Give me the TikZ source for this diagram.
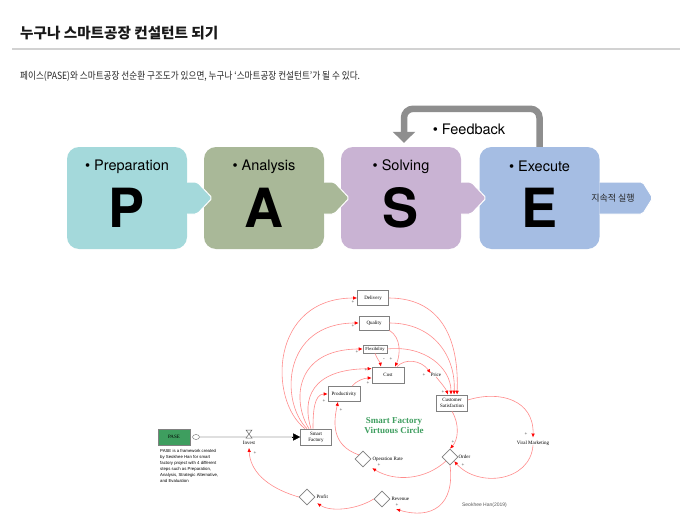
\documentclass[tikz,border=0pt]{standalone}
\usepackage{fontspec}
\usepackage{graphicx}
\setmainfont{Liberation Serif}
\newfontfamily\krfont{Noto Sans CJK KR}
\newfontfamily\hvfont{TeX Gyre Heros}
\newfontfamily\smfont{Liberation Sans}
\usetikzlibrary{arrows.meta, shapes.geometric, positioning}

\definecolor{pcol}{HTML}{A4D9DB}
\definecolor{acol}{HTML}{A9B898}
\definecolor{scol}{HTML}{C9B3D3}
\definecolor{ecol}{HTML}{A5BDE3}
\definecolor{fbgray}{HTML}{8E8E8E}
\definecolor{sfgreen}{HTML}{3E9E5F}
\definecolor{linkred}{HTML}{FF8C8C}

\begin{document}
\begin{tikzpicture}[
    x = 1pt, y = -1pt,
    blk/.style = {rounded corners = 12pt, minimum width = 120pt,
      minimum height = 102pt, inner sep = 0pt},
    tag/.style = {font = \hvfont\fontsize{14.5}{16}\selectfont, inner sep = 0pt},
    letter/.style = {font = \hvfont\bfseries\fontsize{54}{56}\selectfont, inner sep = 0pt},
    tab/.style = {draw = white, line width = 1pt, rounded corners = 2pt},
    fbarrow/.style = {draw = fbgray, line width = 6.5pt, rounded corners = 9pt,
      -{Triangle[length = 11pt, width = 22pt]}},
    sdbox/.style = {draw = gray, line width = 0.6pt, fill = white, inner sep = 1pt,
      align = center, font = \fontsize{5}{6}\selectfont},
    sdvar/.style = {diamond, draw = gray, line width = 0.6pt, fill = white,
      minimum width = 16pt, minimum height = 16pt, inner sep = 0pt},
    vlabel/.style = {font = \fontsize{5}{6}\selectfont, inner sep = 0pt},
    link/.style = {draw = linkred, line width = 0.6pt,
      -{Latex[length = 4pt, width = 3.5pt, color = red]}},
    sign/.style = {font = \fontsize{5}{5}\selectfont, text = gray!40!black, inner sep = 0pt},
    pipe/.style = {draw = gray, line width = 0.6pt, double = gray!25, double distance = 1.6pt}
  ]
  \useasboundingbox[fill = white] (0,0) rectangle (680,527);

  % heading
  \node[anchor = west, inner sep = 0pt, text = black!90,
    font = \krfont\bfseries\fontsize{14.6}{16}\selectfont] (title) at (20,33)
    {누구나 스마트공장 컨설턴트 되기};
  \draw[gray!35, line width = 1.5pt] (12,49) -- (680,49);
  \node[anchor = west, inner sep = 0pt, text = black!85] (sub) at (20,76)
    {\scalebox{0.86}[1]{\krfont\fontsize{10}{12}\selectfont
      페이스(PASE)와 스마트공장 선순환 구조도가 있으면, 누구나 ‘스마트공장 컨설턴트’가 될 수 있다.}};

  % PASE blocks
  \node[blk, fill = pcol] (pblk) at (127,198) {};
  \node[blk, fill = acol] (ablk) at (264,198) {};
  \node[blk, fill = scol] (sblk) at (401,198) {};
  \node[blk, fill = ecol] (eblk) at (539.5,198) {};

  \path[tab, fill = pcol] ([yshift = 16pt]pblk.east) -- ++(10,0) -- ++(15,16) -- ++(-15,16) -- ++(-10,0);
  \path[tab, fill = acol] ([yshift = 16pt]ablk.east) -- ++(10,0) -- ++(15,16) -- ++(-15,16) -- ++(-10,0);
  \path[tab, fill = scol] ([yshift = 16pt]sblk.east) -- ++(10,0) -- ++(15,16) -- ++(-15,16) -- ++(-10,0);
  \path[tab, fill = ecol] ([yshift = 16pt]eblk.east) -- ++(43,0) -- ++(10,16) -- ++(-10,16) -- ++(-43,0);

  \node[tag] (ptag) at ([yshift = -20pt]pblk.north) {\textbullet\ Preparation};
  \node[tag] (atag) at ([yshift = -20pt]ablk.north) {\textbullet\ Analysis};
  \node[tag] (stag) at ([yshift = -20pt]sblk.north) {\textbullet\ Solving};
  \node[tag] (etag) at ([yshift = -20pt]eblk.north) {\textbullet\ Execute};

  \node[letter] (pl) at ([yshift = -10pt]pblk.center) {P};
  \node[letter] (al) at ([yshift = -10pt]ablk.center) {A};
  \node[letter] (sl) at ([yshift = -10pt]sblk.center) {S};
  \node[letter] (el) at ([yshift = -10pt]eblk.center) {E};

  \node[inner sep = 0pt, text = black!85, font = \krfont\fontsize{9}{10}\selectfont]
    (keep) at (613,198) {지속적 실행};

  \draw[fbarrow] (eblk.north) -- ++(0,-38) -| ([xshift = 3pt, yshift = 4pt]sblk.north);
  \node[tag] (fb) at (469,129) {\textbullet\ Feedback};

  % stock and flow
  \node[sdbox, fill = sfgreen, minimum width = 32pt, minimum height = 16pt] (pase) at (174,437) {PASE};
  \node[draw = gray, line width = 0.5pt, ellipse, minimum width = 7pt, minimum height = 5pt,
    inner sep = 0pt] (cloud) at (196,437) {};
  \node[sdbox, minimum width = 31pt, minimum height = 16pt] (sf) at (316,437) {Smart\\Factory};
  \draw[pipe, shorten > = 7pt] (cloud) -- (sf);
  \draw[line width = 0.4pt, -{Triangle[length = 7pt, width = 7pt]}] ([xshift = -8pt]sf.west) -- (sf.west);
  \coordinate (valve) at (249,434);
  \draw[gray!80!black, line width = 0.5pt, fill = white] (valve) ++(-3,-4) -- ++(6,0) -- ++(-6,8) -- ++(6,0) -- cycle;
  \node[vlabel] (invest) at (249,443) {Invest};

  \node[anchor = north west, inner sep = 0pt, align = left,
    font = \smfont\fontsize{4.3}{6}\selectfont] (note) at (160,449)
    {PASE is a framework created\\by Seokhee Han for smart\\factory project with 4 different\\
     steps such as Preparation,\\Analysis, Strategic Alternative,\\and Evaluation};

  % variables
  \node[sdbox, minimum width = 31pt, minimum height = 15pt] (deliv) at (373,298) {Delivery};
  \node[sdbox, minimum width = 30pt, minimum height = 14pt] (qual) at (374,323) {Quality};
  \node[sdbox, minimum width = 24pt, minimum height = 8pt, inner sep = 0.5pt,
    font = \fontsize{4.6}{5}\selectfont] (flex) at (375,349) {Flexibility};
  \node[sdbox, minimum width = 32pt, minimum height = 16pt] (cost) at (388,375) {Cost};
  \node[sdbox, minimum width = 32pt, minimum height = 15pt] (prod) at (344,394) {Productivity};
  \node[vlabel] (price) at (436,375) {Price};
  \node[sdbox, minimum width = 31pt, minimum height = 16pt] (cs) at (452,403) {Customer\\Satisfaction};
  \node[vlabel] (viral) at (533,443) {Viral Marketing};

  \node[sdvar] (order) at (450,457) {};
  \node[vlabel, right = 0pt of order] (orderl) {Order};
  \node[sdvar] (oprate) at (363,459) {};
  \node[vlabel, right = 1pt of oprate] (opratel) {Operation Rate};
  \node[sdvar] (rev) at (382,499) {};
  \node[vlabel, right = 1pt of rev] (revl) {Revenue};
  \node[sdvar] (profit) at (307,497) {};
  \node[vlabel, right = 1pt of profit] (profitl) {Profit};

  \node[align = center, text = sfgreen, inner sep = 0pt,
    font = \bfseries\fontsize{9}{10}\selectfont] (vc) at (394,425.5) {Smart Factory\\Virtuous Circle};
  \node[inner sep = 0pt, text = gray!70!black, font = \smfont\fontsize{5}{6}\selectfont]
    (cite) at (484.5,505) {Seokhee Han(2019)};

  % links
  \draw[link] ([xshift = -11pt]sf.north) .. controls (268,400) and (270,298) .. (deliv.west);
  \draw[link] ([xshift = -9pt]sf.north) .. controls (280,402) and (282,323) .. (qual.west);
  \draw[link] ([xshift = -7pt]sf.north) .. controls (292,402) and (294,349) .. (flex.west);
  \draw[link] ([xshift = -5pt]sf.north) .. controls (302,400) and (310,369) .. ([yshift = -2pt]cost.north west);
  \draw[link] ([xshift = -3pt]sf.north) .. controls (313,412) and (314,394) .. (prod.west);
  \draw[link] (oprate.north west) .. controls (330,445) and (334,420) .. ([xshift = -6pt]prod.south);
  \draw[link] ([xshift = 8pt]prod.north) .. controls (356,381) and (364,378) .. ([yshift = -3pt]cost.west);
  \draw[link] (qual.south east) .. controls (402,338) and (400,356) .. ([xshift = 7pt]cost.north);
  \draw[link] (flex.south) .. controls (377,359) and (380,362) .. ([xshift = -7pt]cost.north);
  \draw[link] ([xshift = 9pt]cost.north) .. controls (405,358) and (421,360) .. (price.north west);
  \draw[link] (price.south) .. controls (442,384) and (446,389) .. ([xshift = -4pt]cs.north);
  \draw[link] (deliv.east) .. controls (445,298) and (459,345) .. ([xshift = 5pt]cs.north);
  \draw[link] (qual.east) .. controls (435,323) and (456,358) .. ([xshift = 2pt]cs.north);
  \draw[link] (flex.east) .. controls (425,345) and (451,368) .. ([xshift = -1pt]cs.north);
  \draw[link] (cs.south) .. controls (460,425) and (458,440) .. (order.north);
  \draw[link] ([yshift = 3pt]cs.east) .. controls (500,390) and (534,400) .. ([yshift = 3pt]viral.north);
  \draw[link] (viral.south) .. controls (530,482) and (478,488) .. (order.south east);
  \draw[link] (order.south west) .. controls (425,480) and (395,482) .. ([xshift = 5pt, yshift = -5pt]oprate.south east);
  \draw[link] (order.south) .. controls (455,505) and (432,520) .. ([xshift = 10pt, yshift = -6pt]rev.south east);
  \draw[link] (rev.west) .. controls (356,510) and (330,512) .. ([xshift = 6pt, yshift = -2pt]profit.south east);
  \draw[link] (profit.west) .. controls (265,487) and (250,470) .. ([yshift = -3pt]invest.south);

  % Labels
  \begin{scope}[nodes = {sign}]
    \node at (353,302) {+};
    \node at (353,326) {+};
    \node at (357,352) {+};
    \node at (366,370) {+};
    \node at (368,383) {+};
    \node at (324,401) {+};
    \node at (341,410) {+};
    \node at (384,360) {-};
    \node at (391,359) {+};
    \node at (424,375) {+};
    \node at (443,392) {+};
    \node at (453,442) {+};
    \node at (526,434) {+};
    \node at (463,465) {+};
    \node at (379,465) {+};
    \node at (397,505) {+};
    \node at (255,453) {+};
  \end{scope}

\end{tikzpicture}
\end{document}
